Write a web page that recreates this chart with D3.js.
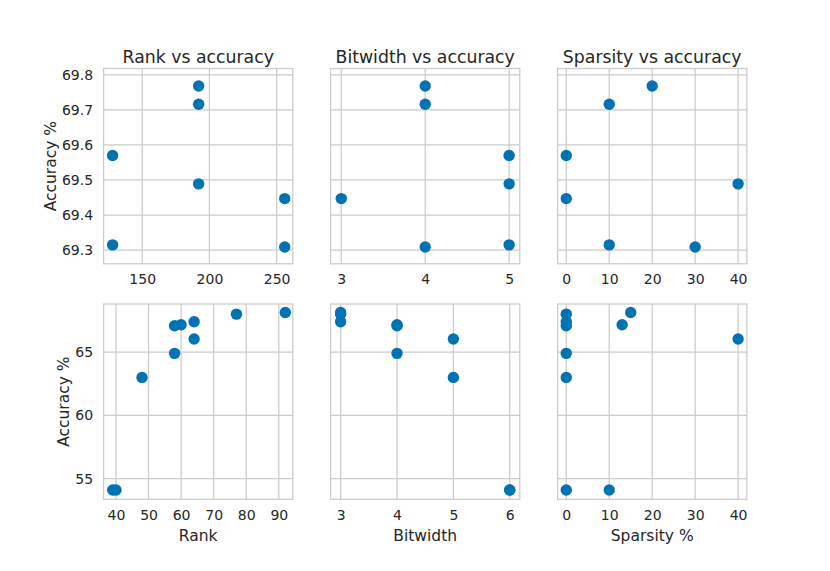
<!DOCTYPE html>
<html>
<head>
<meta charset="utf-8">
<script src="https://cdn.jsdelivr.net/npm/d3@7"></script>
<style>
  body { margin: 0; background: #fff; }
  text { font-family: "DejaVu Sans", sans-serif; fill: #262626; }
</style>
</head>
<body>
<script>
// Top row runs (accuracy 69.3 - 69.8)
var topRank = [192, 192, 128, 192, 256, 128, 256];
var topBitwidth = [4, 4, 5, 5, 3, 5, 4];
var topSparsity = [20, 10, 0, 40, 0, 10, 30];
var topAccuracy = [69.768, 69.716, 69.570, 69.489, 69.447, 69.315, 69.309];

// Bottom row runs (accuracy 54 - 68)
var bottomRank = [39, 40, 58, 60, 64, 64, 58, 48, 77, 92];
var bottomBitwidth = [6, 6, 4, 4, 3, 5, 4, 5, 3, 3];
var bottomSparsity = [0, 10, 0, 13, 0, 40, 0, 0, 0, 15];
var bottomAccuracy = [54.1, 54.1, 67.08, 67.16, 67.4, 66.03, 64.9, 63.0, 68.0, 68.13];

// Tick labels
var topRankTicks = [150, 200, 250];
var topBitwidthTicks = [3, 4, 5];
var bottomRankTicks = [40, 50, 60, 70, 80, 90];
var bottomBitwidthTicks = [3, 4, 5, 6];
var sparsityTicks = [0, 10, 20, 30, 40];
var topAccuracyTicks = [69.3, 69.4, 69.5, 69.6, 69.7, 69.8];
var bottomAccuracyTicks = [55, 60, 65];

// Figure layout
var svgWidth = 830;
var svgHeight = 571;
var panelWidth = 189.2;
var panelHeight = 195.3;
var colLeft = [103.6, 330.6, 557.6];
var rowTop = [68.5, 304];
var gridColor = "#cccccc";
var dotColor = "#0173b2";

var rows = [
  {
    acc: topAccuracy,
    yDomain: [69.261, 69.818],
    yTicks: topAccuracyTicks,
    yFormat: d3.format(".1f"),
    panels: [
      { x: topRank, domain: [121.3, 262.0], ticks: topRankTicks, title: "Rank vs accuracy" },
      { x: topBitwidth, domain: [2.873, 5.127], ticks: topBitwidthTicks, title: "Bitwidth vs accuracy" },
      { x: topSparsity, domain: [-2.02, 42.02], ticks: sparsityTicks, title: "Sparsity vs accuracy" }
    ]
  },
  {
    acc: bottomAccuracy,
    yDomain: [53.37, 68.80],
    yTicks: bottomAccuracyTicks,
    yFormat: d3.format("d"),
    panels: [
      { x: bottomRank, domain: [36.2, 94.3], ticks: bottomRankTicks, label: "Rank" },
      { x: bottomBitwidth, domain: [2.822, 6.178], ticks: bottomBitwidthTicks, label: "Bitwidth" },
      { x: bottomSparsity, domain: [-2.02, 42.02], ticks: sparsityTicks, label: "Sparsity %" }
    ]
  }
];

var svg = d3.select("body")
  .append("svg")
  .attr("width", svgWidth)
  .attr("height", svgHeight);

rows.forEach(function(row, r) {
  var yScale = d3.scaleLinear()
    .domain(row.yDomain)
    .range([panelHeight, 0]);

  row.panels.forEach(function(p, c) {
    var g = svg.append("g")
      .attr("transform", `translate(${colLeft[c]}, ${rowTop[r]})`);

    var xScale = d3.scaleLinear()
      .domain(p.domain)
      .range([0, panelWidth]);

    // grid lines
    g.selectAll(".vgrid")
      .data(p.ticks)
      .enter()
      .append("line")
      .attr("x1", d => xScale(d))
      .attr("x2", d => xScale(d))
      .attr("y1", 0)
      .attr("y2", panelHeight)
      .attr("stroke", gridColor)
      .attr("stroke-width", 1.25);

    g.selectAll(".hgrid")
      .data(row.yTicks)
      .enter()
      .append("line")
      .attr("x1", 0)
      .attr("x2", panelWidth)
      .attr("y1", d => yScale(d))
      .attr("y2", d => yScale(d))
      .attr("stroke", gridColor)
      .attr("stroke-width", 1.25);

    // points
    g.selectAll(".dot")
      .data(p.x.map((v, i) => [v, row.acc[i]]))
      .enter()
      .append("circle")
      .attr("cx", d => xScale(d[0]))
      .attr("cy", d => yScale(d[1]))
      .attr("r", 5.7)
      .attr("fill", dotColor);

    // frame
    g.append("rect")
      .attr("width", panelWidth)
      .attr("height", panelHeight)
      .attr("fill", "none")
      .attr("stroke", gridColor)
      .attr("stroke-width", 1.25);

    // x axis labels
    var xAxis = g.append("g")
      .attr("transform", `translate(0, ${panelHeight})`)
      .call(d3.axisBottom(xScale).tickValues(p.ticks).tickFormat(d3.format("d")).tickSize(0).tickPadding(10.7));
    xAxis.select(".domain").remove();
    xAxis.selectAll("text")
      .attr("font-size", 14)
      .attr("font-family", "DejaVu Sans")
      .attr("fill", "#262626");

    // y axis labels on first column only
    if (c === 0) {
      var yAxis = g.append("g")
        .call(d3.axisLeft(yScale).tickValues(row.yTicks).tickFormat(row.yFormat).tickSize(0).tickPadding(10.5));
      yAxis.select(".domain").remove();
      yAxis.selectAll("text")
        .attr("font-size", 14)
        .attr("font-family", "DejaVu Sans")
        .attr("fill", "#262626");

      var labelX = r === 0 ? -52.9 : -40.3;
      g.append("text")
        .attr("transform", `translate(${labelX}, ${panelHeight / 2}) rotate(-90)`)
        .attr("dy", "0.36em")
        .attr("text-anchor", "middle")
        .attr("font-size", 15.5)
        .text("Accuracy %");
    }

    if (p.title) {
      g.append("text")
        .attr("x", panelWidth / 2)
        .attr("y", -5.6)
        .attr("text-anchor", "middle")
        .attr("font-size", 17.3)
        .text(p.title);
    }

    if (p.label) {
      g.append("text")
        .attr("x", panelWidth / 2)
        .attr("y", panelHeight + 41.3)
        .attr("text-anchor", "middle")
        .attr("font-size", 15.5)
        .text(p.label);
    }
  });
});
</script>
</body>
</html>
